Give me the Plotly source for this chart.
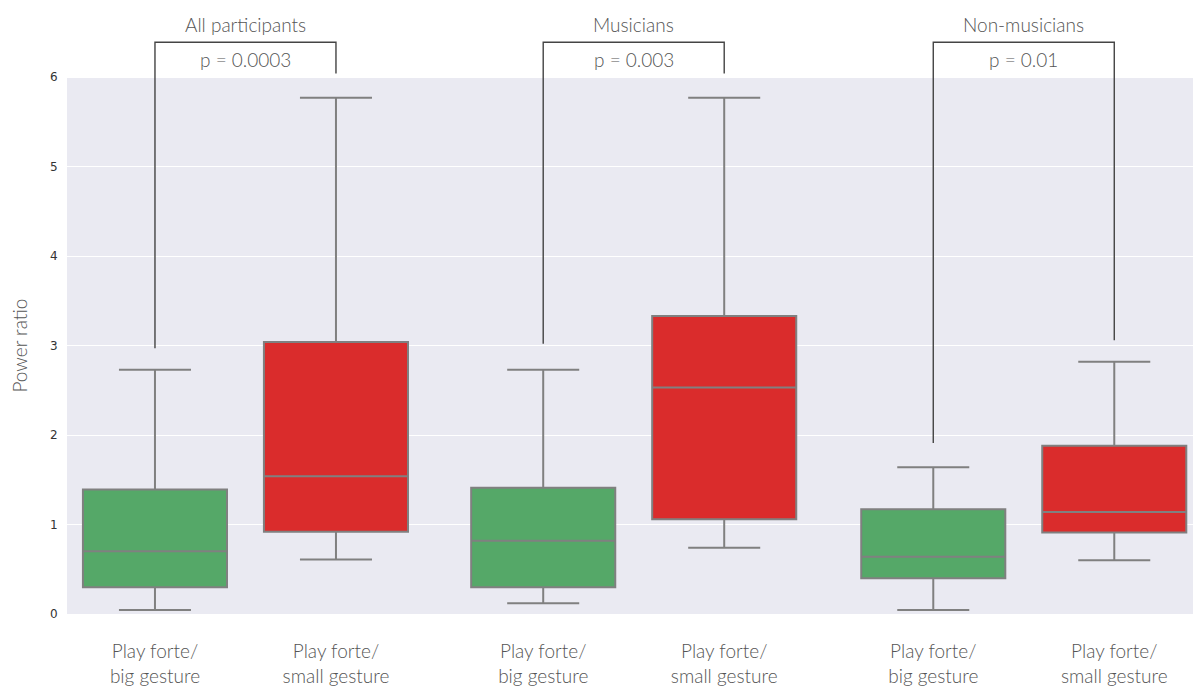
import plotly.graph_objects as go

# ---- data ----
groups = ["All participants", "Musicians", "Non-musicians"]
p_values = ["p = 0.0003", "p = 0.003", "p = 0.01"]
conditions = ["Play forte/<br>big gesture", "Play forte/<br>small gesture"]

big_lower = [0.045, 0.12, 0.045]
big_q1 = [0.30, 0.30, 0.40]
big_median = [0.70, 0.82, 0.64]
big_q3 = [1.39, 1.41, 1.17]
big_upper = [2.73, 2.73, 1.64]

small_lower = [0.61, 0.74, 0.60]
small_q1 = [0.92, 1.06, 0.91]
small_median = [1.54, 2.53, 1.14]
small_q3 = [3.04, 3.33, 1.88]
small_upper = [5.77, 5.77, 2.82]

bracket_left_low = [2.97, 3.02, 1.91]
bracket_right_low = [6.04, 6.04, 3.06]
bracket_top = [6.39, 6.39, 6.39]

y_ticks = [0, 1, 2, 3, 4, 5, 6]
y_title = "Power ratio"

# ---- layout constants ----
group_x = [0.0, 2.145, 4.3]   # left-box position of each group
pair_gap = 1.0
box_width = 0.796
GREEN = "#55A868"
RED = "#DA2C2C"
EDGE = "#808080"
TXT = "#555555"
FONT = "Lato"
FS = 19

fig = go.Figure()

big_x = [g for g in group_x]
small_x = [g + pair_gap for g in group_x]

fig.add_trace(go.Box(
    x=big_x, q1=big_q1, median=big_median, q3=big_q3,
    lowerfence=big_lower, upperfence=big_upper,
    fillcolor=GREEN, line=dict(color=EDGE, width=2),
    width=box_width, whiskerwidth=0.5, boxpoints=False,
    hoverinfo="skip", showlegend=False,
))
fig.add_trace(go.Box(
    x=small_x, q1=small_q1, median=small_median, q3=small_q3,
    lowerfence=small_lower, upperfence=small_upper,
    fillcolor=RED, line=dict(color=EDGE, width=2),
    width=box_width, whiskerwidth=0.5, boxpoints=False,
    hoverinfo="skip", showlegend=False,
))

# significance brackets
for i in range(len(groups)):
    xl, xr = big_x[i], small_x[i]
    fig.add_trace(go.Scatter(
        x=[xl, xl, xr, xr],
        y=[bracket_left_low[i], bracket_top[i], bracket_top[i], bracket_right_low[i]],
        mode="lines", line=dict(color="#444444", width=1.4),
        hoverinfo="skip", showlegend=False, cliponaxis=False,
    ))
    fig.add_annotation(x=(xl + xr) / 2, y=6.20, text=p_values[i], showarrow=False,
                       font=dict(family=FONT, size=FS, color=TXT, weight=300),
                       yanchor="middle")
    fig.add_annotation(x=(xl + xr) / 2, y=6.59, text=groups[i], showarrow=False,
                       font=dict(family=FONT, size=FS, color=TXT, weight=300),
                       yanchor="middle")

# y-axis title, centred on the 0..6 shaded region
fig.add_annotation(xref="paper", x=0, xshift=-47, xanchor="center",
                   yref="y", y=(y_ticks[0] + y_ticks[-1]) / 2, yanchor="middle",
                   text=y_title, textangle=-90, showarrow=False,
                   font=dict(family=FONT, size=FS, color=TXT, weight=300))

# grey plotting background limited to 0..6
fig.add_shape(type="rect", xref="x domain", x0=0, x1=1, yref="y", y0=0, y1=6,
              fillcolor="#EAEAF2", line=dict(width=0), layer="below")

tick_pos = []
tick_txt = []
for i in range(len(groups)):
    tick_pos += [big_x[i], small_x[i]]
    tick_txt += conditions

fig.update_layout(
    width=1193, height=687,
    margin=dict(l=67, r=0, t=10, b=73),
    paper_bgcolor="white", plot_bgcolor="white",
    xaxis=dict(range=[-0.486, 5.735], tickvals=tick_pos, ticktext=tick_txt,
               showgrid=False, zeroline=False, showline=False,
               ticks="outside", ticklen=20, tickcolor="rgba(0,0,0,0)",
               automargin=False,
               tickfont=dict(family=FONT, size=FS, color=TXT, weight=300)),
    yaxis=dict(range=[0, 6.75], tickvals=y_ticks, ticktext=[str(v) for v in y_ticks],
               showgrid=True, gridcolor="white", gridwidth=1.2, zeroline=False,
               showline=False, ticks="outside", ticklen=6, tickcolor="rgba(0,0,0,0)",
               automargin=False,
               tickfont=dict(family="DejaVu Sans", size=12, color="#333333")),
)

fig.write_html("out.html",
               config={"displayModeBar": False},
               post_script="document.body.style.margin='0';document.body.style.overflow='hidden';")
